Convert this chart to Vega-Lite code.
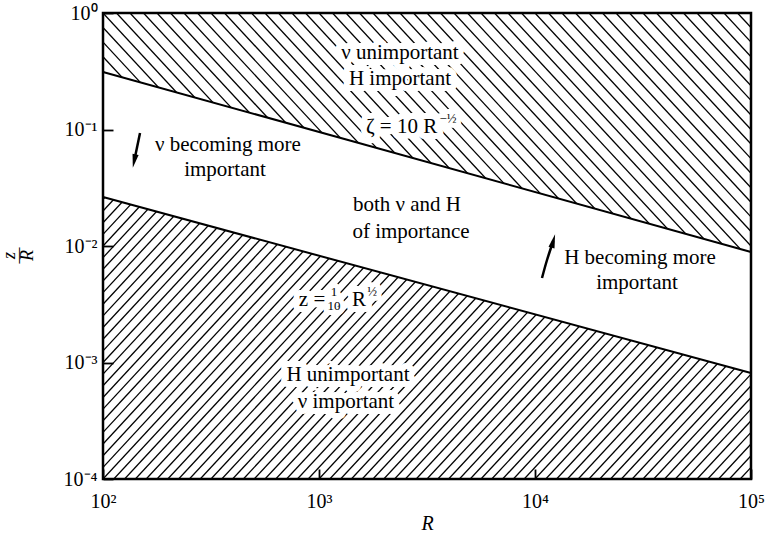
{
  "$schema": "https://vega.github.io/schema/vega-lite/v6.json",
  "width": 648,
  "height": 466,
  "autosize": {"type": "none"},
  "padding": {"left": 103, "top": 13, "right": 18, "bottom": 57},
  "background": "white",
  "config": {"view": {"stroke": null}, "font": "Liberation Serif"},
  "datasets": {
    "lowHatch": [
      {"r0": 6.3096, "r1": 630.96, "z0": 0.0001, "z1": 1}, {"r0": 7.0795, "r1": 707.95, "z0": 0.0001, "z1": 1}, {"r0": 7.9433, "r1": 794.33, "z0": 0.0001, "z1": 1}, {"r0": 8.9125, "r1": 891.25, "z0": 0.0001, "z1": 1},
      {"r0": 10, "r1": 1000, "z0": 0.0001, "z1": 1}, {"r0": 11.22, "r1": 1122, "z0": 0.0001, "z1": 1}, {"r0": 12.589, "r1": 1258.9, "z0": 0.0001, "z1": 1}, {"r0": 14.125, "r1": 1412.5, "z0": 0.0001, "z1": 1}, {"r0": 15.849, "r1": 1584.9, "z0": 0.0001, "z1": 1},
      {"r0": 17.783, "r1": 1778.3, "z0": 0.0001, "z1": 1}, {"r0": 19.953, "r1": 1995.3, "z0": 0.0001, "z1": 1}, {"r0": 22.387, "r1": 2238.7, "z0": 0.0001, "z1": 1}, {"r0": 25.119, "r1": 2511.9, "z0": 0.0001, "z1": 1}, {"r0": 28.184, "r1": 2818.4, "z0": 0.0001, "z1": 1},
      {"r0": 31.623, "r1": 3162.3, "z0": 0.0001, "z1": 1}, {"r0": 35.481, "r1": 3548.1, "z0": 0.0001, "z1": 1}, {"r0": 39.811, "r1": 3981.1, "z0": 0.0001, "z1": 1}, {"r0": 44.668, "r1": 4466.8, "z0": 0.0001, "z1": 1}, {"r0": 50.119, "r1": 5011.9, "z0": 0.0001, "z1": 1},
      {"r0": 56.234, "r1": 5623.4, "z0": 0.0001, "z1": 1}, {"r0": 63.096, "r1": 6309.6, "z0": 0.0001, "z1": 1}, {"r0": 70.795, "r1": 7079.5, "z0": 0.0001, "z1": 1}, {"r0": 79.433, "r1": 7943.3, "z0": 0.0001, "z1": 1}, {"r0": 89.125, "r1": 8912.5, "z0": 0.0001, "z1": 1},
      {"r0": 100, "r1": 10000, "z0": 0.0001, "z1": 1}, {"r0": 112.2, "r1": 11220, "z0": 0.0001, "z1": 1}, {"r0": 125.89, "r1": 12589, "z0": 0.0001, "z1": 1}, {"r0": 141.25, "r1": 14125, "z0": 0.0001, "z1": 1}, {"r0": 158.49, "r1": 15849, "z0": 0.0001, "z1": 1},
      {"r0": 177.83, "r1": 17783, "z0": 0.0001, "z1": 1}, {"r0": 199.53, "r1": 19953, "z0": 0.0001, "z1": 1}, {"r0": 223.87, "r1": 22387, "z0": 0.0001, "z1": 1}, {"r0": 251.19, "r1": 25119, "z0": 0.0001, "z1": 1}, {"r0": 281.84, "r1": 28184, "z0": 0.0001, "z1": 1},
      {"r0": 316.23, "r1": 31623, "z0": 0.0001, "z1": 1}, {"r0": 354.81, "r1": 35481, "z0": 0.0001, "z1": 1}, {"r0": 398.11, "r1": 39811, "z0": 0.0001, "z1": 1}, {"r0": 446.68, "r1": 44668, "z0": 0.0001, "z1": 1}, {"r0": 501.19, "r1": 50119, "z0": 0.0001, "z1": 1},
      {"r0": 562.34, "r1": 56234, "z0": 0.0001, "z1": 1}, {"r0": 630.96, "r1": 63096, "z0": 0.0001, "z1": 1}, {"r0": 707.95, "r1": 70795, "z0": 0.0001, "z1": 1}, {"r0": 794.33, "r1": 79433, "z0": 0.0001, "z1": 1}, {"r0": 891.25, "r1": 89125, "z0": 0.0001, "z1": 1},
      {"r0": 1000, "r1": 100000, "z0": 0.0001, "z1": 1}, {"r0": 1122, "r1": 112200, "z0": 0.0001, "z1": 1}, {"r0": 1258.9, "r1": 125890, "z0": 0.0001, "z1": 1}, {"r0": 1412.5, "r1": 141250, "z0": 0.0001, "z1": 1}, {"r0": 1584.9, "r1": 158490, "z0": 0.0001, "z1": 1},
      {"r0": 1778.3, "r1": 177830, "z0": 0.0001, "z1": 1}, {"r0": 1995.3, "r1": 199530, "z0": 0.0001, "z1": 1}, {"r0": 2238.7, "r1": 223870, "z0": 0.0001, "z1": 1}, {"r0": 2511.9, "r1": 251190, "z0": 0.0001, "z1": 1}, {"r0": 2818.4, "r1": 281840, "z0": 0.0001, "z1": 1},
      {"r0": 3162.3, "r1": 316230, "z0": 0.0001, "z1": 1}, {"r0": 3548.1, "r1": 354810, "z0": 0.0001, "z1": 1}, {"r0": 3981.1, "r1": 398110, "z0": 0.0001, "z1": 1}, {"r0": 4466.8, "r1": 446680, "z0": 0.0001, "z1": 1}, {"r0": 5011.9, "r1": 501190, "z0": 0.0001, "z1": 1},
      {"r0": 5623.4, "r1": 562340, "z0": 0.0001, "z1": 1}, {"r0": 6309.6, "r1": 630960, "z0": 0.0001, "z1": 1}, {"r0": 7079.5, "r1": 707950, "z0": 0.0001, "z1": 1}, {"r0": 7943.3, "r1": 794330, "z0": 0.0001, "z1": 1}, {"r0": 8912.5, "r1": 891250, "z0": 0.0001, "z1": 1},
      {"r0": 10000, "r1": 1000000, "z0": 0.0001, "z1": 1}, {"r0": 11220, "r1": 1122000, "z0": 0.0001, "z1": 1}, {"r0": 12589, "r1": 1258900, "z0": 0.0001, "z1": 1}, {"r0": 14125, "r1": 1412500, "z0": 0.0001, "z1": 1}, {"r0": 15849, "r1": 1584900, "z0": 0.0001, "z1": 1},
      {"r0": 17783, "r1": 1778300, "z0": 0.0001, "z1": 1}, {"r0": 19953, "r1": 1995300, "z0": 0.0001, "z1": 1}, {"r0": 22387, "r1": 2238700, "z0": 0.0001, "z1": 1}, {"r0": 25119, "r1": 2511900, "z0": 0.0001, "z1": 1}, {"r0": 28184, "r1": 2818400, "z0": 0.0001, "z1": 1},
      {"r0": 31623, "r1": 3162300, "z0": 0.0001, "z1": 1}, {"r0": 35481, "r1": 3548100, "z0": 0.0001, "z1": 1}, {"r0": 39811, "r1": 3981100, "z0": 0.0001, "z1": 1}, {"r0": 44668, "r1": 4466800, "z0": 0.0001, "z1": 1}, {"r0": 50119, "r1": 5011900, "z0": 0.0001, "z1": 1},
      {"r0": 56234, "r1": 5623400, "z0": 0.0001, "z1": 1}, {"r0": 63096, "r1": 6309600, "z0": 0.0001, "z1": 1}, {"r0": 70795, "r1": 7079500, "z0": 0.0001, "z1": 1}, {"r0": 79433, "r1": 7943300, "z0": 0.0001, "z1": 1}, {"r0": 89125, "r1": 8912500, "z0": 0.0001, "z1": 1}
    ],
    "upHatch": [
      {"r0": 56.234, "r1": 237.14, "z0": 1, "z1": 0.056234}, {"r0": 64.938, "r1": 273.84, "z0": 1, "z1": 0.056234}, {"r0": 74.989, "r1": 316.23, "z0": 1, "z1": 0.056234}, {"r0": 86.596, "r1": 365.17, "z0": 1, "z1": 0.056234},
      {"r0": 100, "r1": 486.97, "z0": 1, "z1": 0.04217}, {"r0": 115.48, "r1": 562.34, "z0": 1, "z1": 0.04217}, {"r0": 133.35, "r1": 649.38, "z0": 1, "z1": 0.04217}, {"r0": 153.99, "r1": 749.89, "z0": 1, "z1": 0.04217},
      {"r0": 177.83, "r1": 1154.8, "z0": 1, "z1": 0.023714}, {"r0": 205.35, "r1": 1333.5, "z0": 1, "z1": 0.023714}, {"r0": 237.14, "r1": 1539.9, "z0": 1, "z1": 0.023714}, {"r0": 273.84, "r1": 1778.3, "z0": 1, "z1": 0.023714},
      {"r0": 316.23, "r1": 2371.4, "z0": 1, "z1": 0.017783}, {"r0": 365.17, "r1": 2738.4, "z0": 1, "z1": 0.017783}, {"r0": 421.7, "r1": 3162.3, "z0": 1, "z1": 0.017783}, {"r0": 486.97, "r1": 3651.7, "z0": 1, "z1": 0.017783},
      {"r0": 562.34, "r1": 4869.7, "z0": 1, "z1": 0.013335}, {"r0": 649.38, "r1": 5623.4, "z0": 1, "z1": 0.013335}, {"r0": 749.89, "r1": 6493.8, "z0": 1, "z1": 0.013335}, {"r0": 865.96, "r1": 7498.9, "z0": 1, "z1": 0.013335},
      {"r0": 1000, "r1": 11548, "z0": 1, "z1": 0.0074989}, {"r0": 1154.8, "r1": 13335, "z0": 1, "z1": 0.0074989}, {"r0": 1333.5, "r1": 15399, "z0": 1, "z1": 0.0074989}, {"r0": 1539.9, "r1": 17783, "z0": 1, "z1": 0.0074989},
      {"r0": 1778.3, "r1": 23714, "z0": 1, "z1": 0.0056234}, {"r0": 2053.5, "r1": 27384, "z0": 1, "z1": 0.0056234}, {"r0": 2371.4, "r1": 31623, "z0": 1, "z1": 0.0056234}, {"r0": 2738.4, "r1": 36517, "z0": 1, "z1": 0.0056234},
      {"r0": 3162.3, "r1": 48697, "z0": 1, "z1": 0.004217}, {"r0": 3651.7, "r1": 56234, "z0": 1, "z1": 0.004217}, {"r0": 4217, "r1": 74989, "z0": 1, "z1": 0.0031623}, {"r0": 4869.7, "r1": 86596, "z0": 1, "z1": 0.0031623},
      {"r0": 5623.4, "r1": 100000, "z0": 1, "z1": 0.0031623}, {"r0": 6493.8, "r1": 100000, "z0": 1, "z1": 0.004217}, {"r0": 7498.9, "r1": 100000, "z0": 1, "z1": 0.0056234}, {"r0": 8659.6, "r1": 100000, "z0": 1, "z1": 0.0074989},
      {"r0": 10000, "r1": 100000, "z0": 1, "z1": 0.01}, {"r0": 11548, "r1": 100000, "z0": 1, "z1": 0.013335}, {"r0": 13335, "r1": 100000, "z0": 1, "z1": 0.017783}, {"r0": 15399, "r1": 100000, "z0": 1, "z1": 0.023714},
      {"r0": 17783, "r1": 100000, "z0": 1, "z1": 0.031623}, {"r0": 20535, "r1": 100000, "z0": 1, "z1": 0.04217}, {"r0": 23714, "r1": 100000, "z0": 1, "z1": 0.056234}, {"r0": 27384, "r1": 100000, "z0": 1, "z1": 0.074989},
      {"r0": 31623, "r1": 100000, "z0": 1, "z1": 0.1}, {"r0": 36517, "r1": 100000, "z0": 1, "z1": 0.13335}, {"r0": 42170, "r1": 100000, "z0": 1, "z1": 0.17783}, {"r0": 48697, "r1": 100000, "z0": 1, "z1": 0.23714},
      {"r0": 56234, "r1": 100000, "z0": 1, "z1": 0.31623}, {"r0": 64938, "r1": 100000, "z0": 1, "z1": 0.4217}, {"r0": 74989, "r1": 100000, "z0": 1, "z1": 0.56234}, {"r0": 86596, "r1": 100000, "z0": 1, "z1": 0.74989}
    ],
    "bounds": [
      {"R": 100, "lower": 0.0263, "upper": 0.312, "top": 1},
      {"R": 100000, "lower": 0.000813, "upper": 0.00888, "top": 1}
    ],
    "frame": [{"R0": 100, "R1": 100000, "v0": 0.0001, "v1": 1}],
    "labels": [
      {"R": 2371, "v": 0.4535, "txt": "ν unimportant"},
      {"R": 2371, "v": 0.2714, "txt": "H important"},
      {"R": 2410, "v": 0.1051, "txt": "ζ = 10 R"},
      {"R": 378.9, "v": 0.07362, "txt": "ν becoming more"},
      {"R": 367.2, "v": 0.04491, "txt": "important"},
      {"R": 2555, "v": 0.02249, "txt": "both ν and H"},
      {"R": 2667, "v": 0.01319, "txt": "of importance"},
      {"R": 30630, "v": 0.007889, "txt": "H becoming more"},
      {"R": 29670, "v": 0.004814, "txt": "important"},
      {"R": 928.2, "v": 0.00344, "txt": "z ="},
      {"R": 1532, "v": 0.00344, "txt": "R"},
      {"R": 1362, "v": 0.000781, "txt": "H unimportant"},
      {"R": 1333.5, "v": 0.000458, "txt": "ν important"}
    ],
    "small": [
      {"R": 3956, "v": 0.1231, "txt": "−½"},
      {"R": 1173, "v": 0.004029, "txt": "1"},
      {"R": 1173, "v": 0.003055, "txt": "10"},
      {"R": 1760, "v": 0.004029, "txt": "½"}
    ],
    "arrows": [
      {"arrow": "nu", "ord": 1, "R": 148.4, "v": 0.0933},
      {"arrow": "nu", "ord": 2, "R": 139.45, "v": 0.05355},
      {"arrow": "H", "ord": 1, "R": 10775, "v": 0.005312},
      {"arrow": "H", "ord": 2, "R": 11367, "v": 0.007583},
      {"arrow": "H", "ord": 3, "R": 12153, "v": 0.01104}
    ],
    "nuHead": [{"R": 139.45, "v": 0.05355}],
    "hHead": [{"R": 12153, "v": 0.01104}]
  },
  "layer": [
    {
      "data": {"name": "bounds"},
      "mark": {"type": "line", "color": "black", "strokeWidth": 2},
      "encoding": {
        "x": {
          "field": "R", "type": "quantitative",
          "scale": {"type": "log", "domain": [100, 100000], "nice": false},
          "axis": {
            "values": [100, 1000, 10000, 100000],
            "labelExpr": "datum.value < 500 ? '10²' : datum.value < 5000 ? '10³' : datum.value < 50000 ? '10⁴' : '10⁵'",
            "title": "R", "titleFont": "Liberation Serif", "titleFontStyle": "italic", "titleFontWeight": "normal",
            "titleFontSize": 20, "titleColor": "black", "titleBaseline": "alphabetic", "titleY": 50,
            "labelFont": "Liberation Serif", "labelFontSize": 20, "labelColor": "black", "labelPadding": 22,
            "labelFlush": false, "labelOverlap": false, "labelBound": false,
            "domain": false, "grid": false, "tickSize": -10, "tickWidth": 1.8, "tickColor": "black", "zindex": 1
          }
        },
        "y": {
          "field": "upper", "type": "quantitative",
          "scale": {"type": "log", "domain": [0.0001, 1], "nice": false},
          "axis": {
            "values": [0.0001, 0.001, 0.01, 0.1, 1],
            "labelExpr": "datum.value > 0.5 ? '10⁰' : datum.value > 0.05 ? '10⁻¹' : datum.value > 0.005 ? '10⁻²' : datum.value > 0.0005 ? '10⁻³' : '10⁻⁴'",
            "title": ["z", "—", "R"], "titleFont": "Liberation Serif", "titleFontStyle": "italic", "titleFontWeight": "normal",
            "titleFontSize": 18, "titleLineHeight": 9, "titleColor": "black", "titleAngle": 270,
            "titleAlign": "center", "titleBaseline": "alphabetic", "titleX": -89, "titleY": 242,
            "labelFont": "Liberation Serif", "labelFontSize": 20, "labelColor": "black", "labelPadding": 16,
            "labelFlush": false, "labelOverlap": false, "labelBound": false,
            "domain": false, "grid": false, "tickSize": -10, "tickWidth": 1.8, "tickColor": "black", "zindex": 1
          }
        }
      }
    },
    {
      "data": {"name": "lowHatch"},
      "mark": {"type": "rule", "clip": true, "strokeWidth": 1.3, "color": "black"},
      "encoding": {
        "x": {"field": "r0", "type": "quantitative"},
        "x2": {"field": "r1"},
        "y": {"field": "z0", "type": "quantitative"},
        "y2": {"field": "z1"}
      }
    },
    {
      "data": {"name": "bounds"},
      "mark": {"type": "area", "color": "white", "opacity": 1},
      "encoding": {
        "x": {"field": "R", "type": "quantitative"},
        "y": {"field": "lower", "type": "quantitative"},
        "y2": {"field": "top"}
      }
    },
    {
      "data": {"name": "upHatch"},
      "mark": {"type": "rule", "clip": true, "strokeWidth": 1.3, "color": "black"},
      "encoding": {
        "x": {"field": "r0", "type": "quantitative"},
        "x2": {"field": "r1"},
        "y": {"field": "z0", "type": "quantitative"},
        "y2": {"field": "z1"}
      }
    },
    {
      "data": {"name": "bounds"},
      "mark": {"type": "area", "color": "white", "opacity": 1},
      "encoding": {
        "x": {"field": "R", "type": "quantitative"},
        "y": {"field": "lower", "type": "quantitative"},
        "y2": {"field": "upper"}
      }
    },
    {
      "data": {"name": "labels"},
      "mark": {"type": "text", "font": "Liberation Serif", "fontSize": 21, "align": "center", "baseline": "middle", "fill": "white", "stroke": "white", "strokeWidth": 12, "strokeJoin": "round"},
      "encoding": {
        "x": {"field": "R", "type": "quantitative"},
        "y": {"field": "v", "type": "quantitative"},
        "text": {"field": "txt", "type": "nominal"}
      }
    },
    {
      "data": {"name": "small"},
      "mark": {"type": "text", "font": "Liberation Serif", "fontSize": 13, "align": "center", "baseline": "middle", "fill": "white", "stroke": "white", "strokeWidth": 10, "strokeJoin": "round"},
      "encoding": {
        "x": {"field": "R", "type": "quantitative"},
        "y": {"field": "v", "type": "quantitative"},
        "text": {"field": "txt", "type": "nominal"}
      }
    },
    {
      "data": {"name": "bounds"},
      "mark": {"type": "line", "color": "black", "strokeWidth": 2},
      "encoding": {
        "x": {"field": "R", "type": "quantitative"},
        "y": {"field": "upper", "type": "quantitative"}
      }
    },
    {
      "data": {"name": "bounds"},
      "mark": {"type": "line", "color": "black", "strokeWidth": 2},
      "encoding": {
        "x": {"field": "R", "type": "quantitative"},
        "y": {"field": "lower", "type": "quantitative"}
      }
    },
    {
      "data": {"name": "arrows"},
      "mark": {"type": "line", "color": "black", "strokeWidth": 2.5, "interpolate": "natural"},
      "encoding": {
        "x": {"field": "R", "type": "quantitative"},
        "y": {"field": "v", "type": "quantitative"},
        "detail": {"field": "arrow", "type": "nominal"},
        "order": {"field": "ord", "type": "quantitative"}
      }
    },
    {
      "data": {"name": "nuHead"},
      "mark": {"type": "point", "shape": "M0,-1L0.45,1L-0.45,1Z", "filled": true, "color": "black", "opacity": 1, "size": 190, "angle": 191.6},
      "encoding": {
        "x": {"field": "R", "type": "quantitative"},
        "y": {"field": "v", "type": "quantitative"}
      }
    },
    {
      "data": {"name": "hHead"},
      "mark": {"type": "point", "shape": "M0,-1L0.45,1L-0.45,1Z", "filled": true, "color": "black", "opacity": 1, "size": 190, "angle": 15},
      "encoding": {
        "x": {"field": "R", "type": "quantitative"},
        "y": {"field": "v", "type": "quantitative"}
      }
    },
    {
      "data": {"name": "labels"},
      "mark": {"type": "text", "font": "Liberation Serif", "fontSize": 21, "align": "center", "baseline": "middle", "color": "black"},
      "encoding": {
        "x": {"field": "R", "type": "quantitative"},
        "y": {"field": "v", "type": "quantitative"},
        "text": {"field": "txt", "type": "nominal"}
      }
    },
    {
      "data": {"name": "small"},
      "mark": {"type": "text", "font": "Liberation Serif", "fontSize": 13, "align": "center", "baseline": "middle", "color": "black"},
      "encoding": {
        "x": {"field": "R", "type": "quantitative"},
        "y": {"field": "v", "type": "quantitative"},
        "text": {"field": "txt", "type": "nominal"}
      }
    },
    {
      "data": {"name": "frame"},
      "mark": {"type": "rect", "filled": false, "stroke": "black", "strokeWidth": 2.5},
      "encoding": {
        "x": {"field": "R0", "type": "quantitative"},
        "x2": {"field": "R1"},
        "y": {"field": "v0", "type": "quantitative"},
        "y2": {"field": "v1"}
      }
    }
  ]
}
